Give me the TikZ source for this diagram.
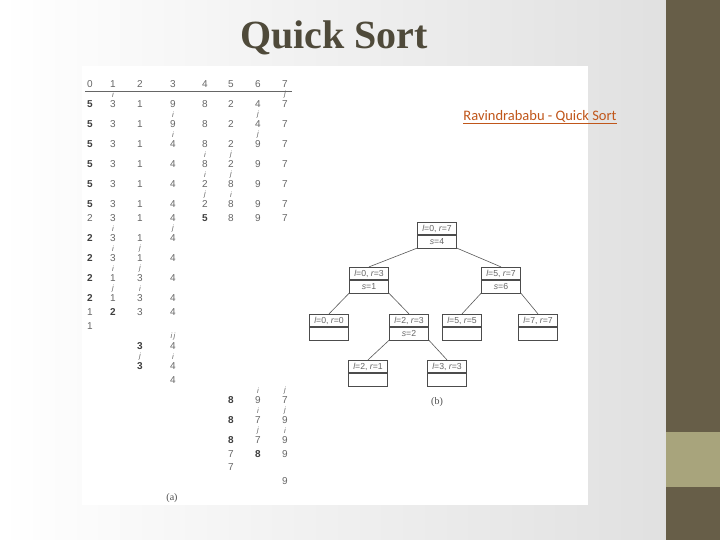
\documentclass[tikz,border=0pt]{standalone}
\usepackage{fontspec}
\setmainfont{Liberation Sans}
\newfontfamily\titlefont{Liberation Serif}
\newfontfamily\linkfont{Carlito}
\definecolor{bar}{HTML}{675E48}
\definecolor{barlt}{HTML}{A8A47C}
\definecolor{txt}{HTML}{666666}
\definecolor{link}{HTML}{C0561A}
\definecolor{ttl}{HTML}{4F4A3A}
\begin{document}
\begin{tikzpicture}[x=1pt,y=-1pt,
  num/.style={font=\fontsize{10}{10}\selectfont,text=txt,inner sep=0pt},
  bnum/.style={num,font=\fontsize{10}{10}\selectfont\bfseries,text=black!75},
  ptr/.style={font=\fontsize{7.5}{7.5}\selectfont\itshape,text=txt,inner sep=0pt},
  box/.style={draw=black!70,line width=0.6pt,minimum width=39pt,minimum height=12.5pt,inner sep=0pt,font=\fontsize{8.7}{8.7}\selectfont,text=txt},
  edge/.style={draw=black!65,line width=0.6pt}]
\useasboundingbox (0,0) rectangle (720,540);
\shade[left color=white,right color=black!12] (0,0) rectangle (666,540);
\fill[bar] (666,0) rectangle (720,540);
\fill[barlt] (666,432) rectangle (720,487);
\fill[white] (82,66) rectangle (588,505);
\node[font=\titlefont\fontsize{40}{40}\selectfont\bfseries,text=ttl] (title) at (334,38) {Quick Sort};
\node[font=\linkfont\fontsize{14.5}{14.5}\selectfont,text=link] (link) at (540,117) {\underline{Ravindrababu - Quick Sort}};
% table
\foreach \c/\x in {0/90,1/113,2/140,3/173,4/205,5/231,6/258,7/285} \node[num] (h\c) at (\x,84) {\c};
\draw[black!60,line width=0.6pt] (85,91) -- (292,91);
\newcommand\QN[3]{\node[num] at (#1,#2) {#3};}
\newcommand\QB[3]{\node[bnum] at (#1,#2) {#3};}
\newcommand\QP[3]{\node[ptr] at (#1,#2-9) {#3};}
\foreach \y/\a/\b/\c/\d/\e/\f/\g in {104/3/1/9/8/2/4/7,124/3/1/9/8/2/4/7,144/3/1/4/8/2/9/7,164/3/1/4/8/2/9/7,184/3/1/4/2/8/9/7,204/3/1/4/2/8/9/7}{
 \QB{90}{\y}{5}\QN{113}{\y}{\a}\QN{140}{\y}{\b}\QN{173}{\y}{\c}\QN{205}{\y}{\d}\QN{231}{\y}{\e}\QN{258}{\y}{\f}\QN{285}{\y}{\g}}
\QP{113}{104}{i}\QP{285}{104}{j}
\QP{173}{124}{i}\QP{258}{124}{j}
\QP{173}{144}{i}\QP{258}{144}{j}
\QP{205}{164}{i}\QP{231}{164}{j}
\QP{205}{184}{i}\QP{231}{184}{j}
\QP{205}{204}{j}\QP{231}{204}{i}
\QN{90}{218}{2}\QN{113}{218}{3}\QN{140}{218}{1}\QN{173}{218}{4}\QB{205}{218}{5}\QN{231}{218}{8}\QN{258}{218}{9}\QN{285}{218}{7}
\foreach \y/\a/\b in {238/3/1,258/3/1,278/1/3,298/1/3}{\QB{90}{\y}{2}\QN{113}{\y}{\a}\QN{140}{\y}{\b}\QN{173}{\y}{4}}
\QP{113}{238}{i}\QP{173}{238}{j}
\QP{113}{258}{i}\QP{140}{258}{j}
\QP{113}{278}{i}\QP{140}{278}{j}
\QP{113}{298}{j}\QP{140}{298}{i}
\QN{90}{312}{1}\QB{113}{312}{2}\QN{140}{312}{3}\QN{173}{312}{4}
\QN{90}{326}{1}
\QB{140}{346}{3}\QN{173}{346}{4}\QP{173}{346}{i\,j}
\QB{140}{366}{3}\QN{173}{366}{4}\QP{140}{366}{j}\QP{173}{366}{i}
\QN{173}{380}{4}
\QB{231}{400}{8}\QN{258}{400}{9}\QN{285}{400}{7}\QP{258}{400}{i}\QP{285}{400}{j}
\QB{231}{420}{8}\QN{258}{420}{7}\QN{285}{420}{9}\QP{258}{420}{i}\QP{285}{420}{j}
\QB{231}{440}{8}\QN{258}{440}{7}\QN{285}{440}{9}\QP{258}{440}{j}\QP{285}{440}{i}
\QN{231}{454}{7}\QB{258}{454}{8}\QN{285}{454}{9}
\QN{231}{467}{7}
\QN{285}{481}{9}
\node[font=\titlefont\fontsize{10}{10}\selectfont,text=black!70] (la) at (172,498) {(a)};
% tree
\newcommand\QT[4]{\node[box,anchor=south] (#1) at (#2,#3) {#4};}
\newcommand\QS[2]{\node[box,anchor=north] (#1s) at (#1.south) {#2};}
\QT{r}{437}{235}{$\mathit{l}$=0, $\mathit{r}$=7}\QS{r}{$\mathit{s}$=4}
\QT{a}{369}{280}{$\mathit{l}$=0, $\mathit{r}$=3}\QS{a}{$\mathit{s}$=1}
\QT{b}{501}{280}{$\mathit{l}$=5, $\mathit{r}$=7}\QS{b}{$\mathit{s}$=6}
\QT{c}{329}{327}{$\mathit{l}$=0, $\mathit{r}$=0}\QS{c}{}
\QT{d}{409}{327}{$\mathit{l}$=2, $\mathit{r}$=3}\QS{d}{$\mathit{s}$=2}
\QT{e}{462}{327}{$\mathit{l}$=5, $\mathit{r}$=5}\QS{e}{}
\QT{f}{538}{327}{$\mathit{l}$=7, $\mathit{r}$=7}\QS{f}{}
\QT{g}{368}{373}{$\mathit{l}$=2, $\mathit{r}$=1}\QS{g}{}
\QT{h}{447}{373}{$\mathit{l}$=3, $\mathit{r}$=3}\QS{h}{}
\draw[edge] (rs.south west) -- (a.north);
\draw[edge] (rs.south east) -- (b.north);
\draw[edge] (as.south west) -- (c.north);
\draw[edge] (as.south east) -- (d.north);
\draw[edge] (bs.south west) -- (e.north);
\draw[edge] (bs.south east) -- (f.north);
\draw[edge] (ds.south west) -- (g.north);
\draw[edge] (ds.south east) -- (h.north);
\node[font=\titlefont\fontsize{10}{10}\selectfont,text=black!70] (lb) at (437,402) {(b)};
\end{tikzpicture}
\end{document}
